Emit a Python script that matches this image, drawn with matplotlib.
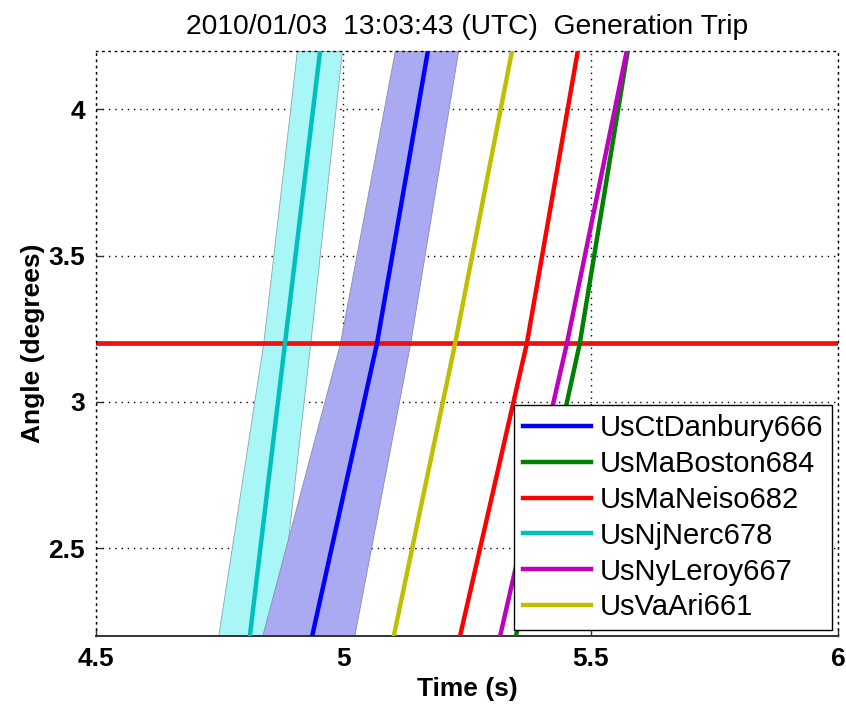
import numpy as np
import matplotlib.pyplot as plt

plt.rcParams['font.family'] = ['Liberation Sans', 'DejaVu Sans']

# angle levels where the times were read (degrees)
angle = [2.2, 3.2, 4.2]

# time (s) at which each unit's angle crosses the levels above
names = ['UsCtDanbury666', 'UsMaBoston684', 'UsMaNeiso682',
         'UsNjNerc678', 'UsNyLeroy667', 'UsVaAri661']
t_danbury = [4.937, 5.068, 5.171]
t_boston = [5.349, 5.478, 5.575]
t_neiso = [5.236, 5.371, 5.474]
t_nerc = [4.811, 4.882, 4.953]
t_leroy = [5.317, 5.452, 5.573]
t_vaari = [5.102, 5.226, 5.341]

# uncertainty bands (left / right edges in time)
danbury_lo = [4.836, 4.993, 5.104]
danbury_hi = [5.022, 5.135, 5.232]
nerc_lo = [4.747, 4.838, 4.906]
nerc_hi = [4.866, 4.933, 4.997]

threshold = 3.2

colors = ['#0000ff', '#008000', '#ff0000', '#00bfbf', '#bf00bf', '#bfbf00']

fig = plt.figure(figsize=(8.46, 7.08), dpi=100)
ax = fig.add_axes([0.1135, 0.1017, 0.877, 0.8263])

ax.fill_betweenx(angle, nerc_lo, nerc_hi, facecolor='#a8f6f6',
                 edgecolor='#8aa6b0', lw=0.6, zorder=1)
ax.fill_betweenx(angle, danbury_lo, danbury_hi, facecolor='#aaaaf2',
                 edgecolor='#8a8ab0', lw=0.6, zorder=1)

ax.axhline(threshold, color='#ee1111', lw=3.4, zorder=2)

series = [t_danbury, t_boston, t_neiso, t_nerc, t_leroy, t_vaari]
for t, c, n in zip(series, colors, names):
    ax.plot(t, angle, color=c, lw=3.2, label=n, zorder=3)

ax.set_xlim(4.5, 6)
ax.set_ylim(2.2, 4.2)
ax.set_xticks([4.5, 5, 5.5, 6])
ax.set_xticklabels(['4.5', '5', '5.5', '6'])
ax.set_yticks([2.5, 3, 3.5, 4])
ax.set_yticklabels(['2.5', '3', '3.5', '4'])

ax.grid(True, color='black', linestyle=(0, (1, 3.5)), lw=1.0)
ax.set_axisbelow(True)
for s in ['top', 'right', 'left']:
    ax.spines[s].set_linestyle((0, (1, 3.5)))
    ax.spines[s].set_linewidth(1.0)
ax.spines['bottom'].set_color('#333333')
ax.spines['bottom'].set_linewidth(1.4)

ax.tick_params(direction='in', length=5, width=1, colors='#333333',
               labelcolor='black', labelsize=19, pad=8)
for lab in ax.get_xticklabels() + ax.get_yticklabels():
    lab.set_fontweight('bold')

ax.set_xlabel('Time (s)', fontsize=19, fontweight='bold', labelpad=4)
ax.set_ylabel('Angle (degrees)', fontsize=19, fontweight='bold', labelpad=2)
ax.set_title('2010/01/03  13:03:43 (UTC)  Generation Trip', fontsize=20.3,
             pad=12)

leg = ax.legend(loc='lower right', fontsize=21, handlelength=2.35,
                handletextpad=0.3, labelspacing=0.27, borderpad=0.3,
                borderaxespad=0.2, fancybox=False, framealpha=1)
leg.get_frame().set_edgecolor('black')
leg.get_frame().set_linewidth(1.0)

fig.savefig('out.png', dpi=100)
